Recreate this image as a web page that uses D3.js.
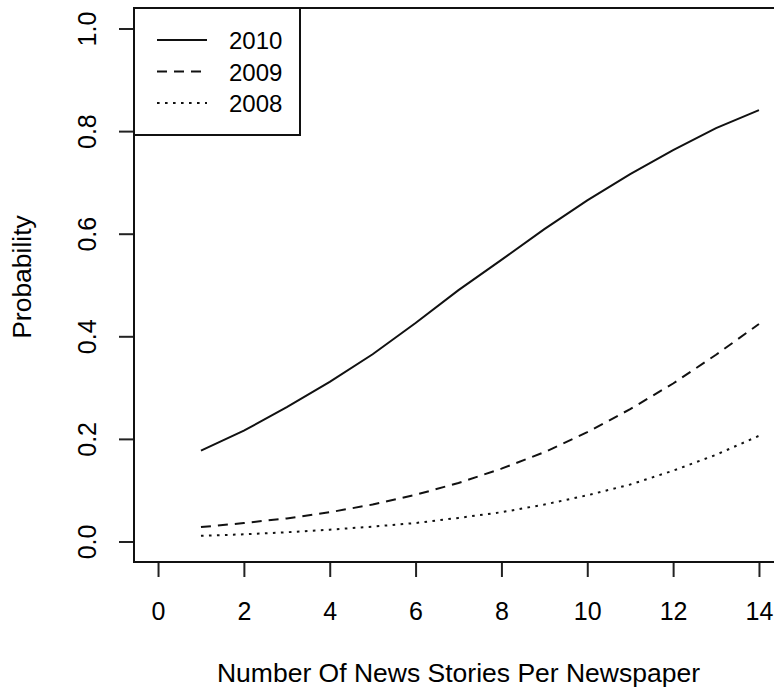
<!DOCTYPE html>
<html>
<head>
<meta charset="utf-8">
<script src="https://cdn.jsdelivr.net/npm/d3@7"></script>
<style>
  html, body { margin: 0; padding: 0; background: #fff; }
  svg { display: block; }
  text { font-family: "Liberation Sans", Arial, Helvetica, sans-serif; fill: #000; }
</style>
</head>
<body>
<script>
// Predicted probability by number of news stories, one curve per year
const stories = [1, 2, 3, 4, 5, 6, 7, 8, 9, 10, 11, 12, 13, 14];
const prob2010 = [0.177, 0.216, 0.262, 0.311, 0.365, 0.426, 0.490, 0.549, 0.609, 0.665, 0.716, 0.763, 0.806, 0.841];
const prob2009 = [0.028, 0.036, 0.045, 0.057, 0.072, 0.091, 0.114, 0.142, 0.174, 0.213, 0.258, 0.308, 0.364, 0.424];
const prob2008 = [0.011, 0.014, 0.018, 0.023, 0.029, 0.036, 0.046, 0.057, 0.072, 0.090, 0.111, 0.138, 0.169, 0.206];
const seriesNames = ["2010", "2009", "2008"];
const xTicks = [0, 2, 4, 6, 8, 10, 12, 14];
const yTicks = [0.0, 0.2, 0.4, 0.6, 0.8, 1.0];
const xTitle = "Number Of News Stories Per Newspaper";
const yTitle = "Probability";

const W = 774, H = 690;
const plot = { left: 134, right: 783, top: 8, bottom: 562 };

const svg = d3.select("body").append("svg")
  .attr("width", W).attr("height", H)
  .attr("viewBox", `0 0 ${W} ${H}`);

// Axis ranges padded by 4% on each side
const x = d3.scaleLinear().domain([-0.56, 14.56]).range([plot.left, plot.right]);
const y = d3.scaleLinear().domain([-0.04, 1.04]).range([plot.bottom, plot.top]);

const fmtY = d3.format(".1f");
const tickLen = 15;
const fontPx = 25;
const titlePx = 26.5;

// x axis
const gx = svg.append("g")
  .attr("transform", `translate(0,${plot.bottom})`)
  .call(d3.axisBottom(x).tickValues(xTicks).tickFormat(d3.format("d"))
    .tickSize(tickLen).tickSizeOuter(0).tickPadding(12));
gx.select(".domain").remove();
gx.selectAll(".tick line").attr("stroke", "#222").attr("stroke-width", 2);
gx.selectAll(".tick text")
  .attr("font-size", fontPx).attr("font-family", null)
  .attr("dy", null).attr("y", 58);

// y axis, labels rotated parallel to the axis
const gy = svg.append("g")
  .attr("transform", `translate(${plot.left},0)`)
  .call(d3.axisLeft(y).tickValues(yTicks).tickFormat(fmtY)
    .tickSize(tickLen).tickSizeOuter(0));
gy.select(".domain").remove();
gy.selectAll(".tick line").attr("stroke", "#222").attr("stroke-width", 2);
gy.selectAll(".tick text")
  .attr("font-size", fontPx).attr("font-family", null)
  .attr("x", null).attr("dy", null)
  .attr("text-anchor", "middle")
  .attr("transform", "translate(-38,0) rotate(-90)");

// Plot box
svg.append("rect")
  .attr("x", plot.left).attr("y", plot.top)
  .attr("width", plot.right - plot.left).attr("height", plot.bottom - plot.top)
  .attr("fill", "none").attr("stroke", "#111").attr("stroke-width", 2);

// Axis titles
svg.append("text")
  .attr("x", (plot.left + plot.right) / 2).attr("y", 682)
  .attr("text-anchor", "middle").attr("font-size", titlePx)
  .text(xTitle);
svg.append("text")
  .attr("transform", `translate(31,${(plot.top + plot.bottom) / 2 - 8}) rotate(-90)`)
  .attr("text-anchor", "middle").attr("font-size", titlePx)
  .text(yTitle);

// Curves
const series = [
  { name: seriesNames[0], values: prob2010, dash: null },
  { name: seriesNames[1], values: prob2009, dash: "10,7" },
  { name: seriesNames[2], values: prob2008, dash: "2.6,5.4" }
];

const line = d3.line()
  .x((d, i) => x(stories[i]))
  .y(d => y(d));

svg.append("g").selectAll("path")
  .data(series)
  .join("path")
  .attr("d", d => line(d.values))
  .attr("fill", "none")
  .attr("stroke", "#111")
  .attr("stroke-width", 2)
  .attr("stroke-dasharray", d => d.dash);

// Legend
const legend = svg.append("g");
legend.append("rect")
  .attr("x", plot.left).attr("y", plot.top)
  .attr("width", 166).attr("height", 127)
  .attr("fill", "#fff").attr("stroke", "#111").attr("stroke-width", 2);

const rowY = [40, 71.5, 103];
const rows = legend.selectAll("g.row")
  .data(series)
  .join("g").attr("class", "row")
  .attr("transform", (d, i) => `translate(0,${rowY[i]})`);
rows.append("line")
  .attr("x1", 157).attr("x2", 207)
  .attr("y1", 0).attr("y2", 0)
  .attr("stroke", "#111").attr("stroke-width", 2)
  .attr("stroke-dasharray", d => d.dash);
rows.append("text")
  .attr("x", 229).attr("y", 9)
  .attr("font-size", 24)
  .text(d => d.name);
</script>
</body>
</html>
